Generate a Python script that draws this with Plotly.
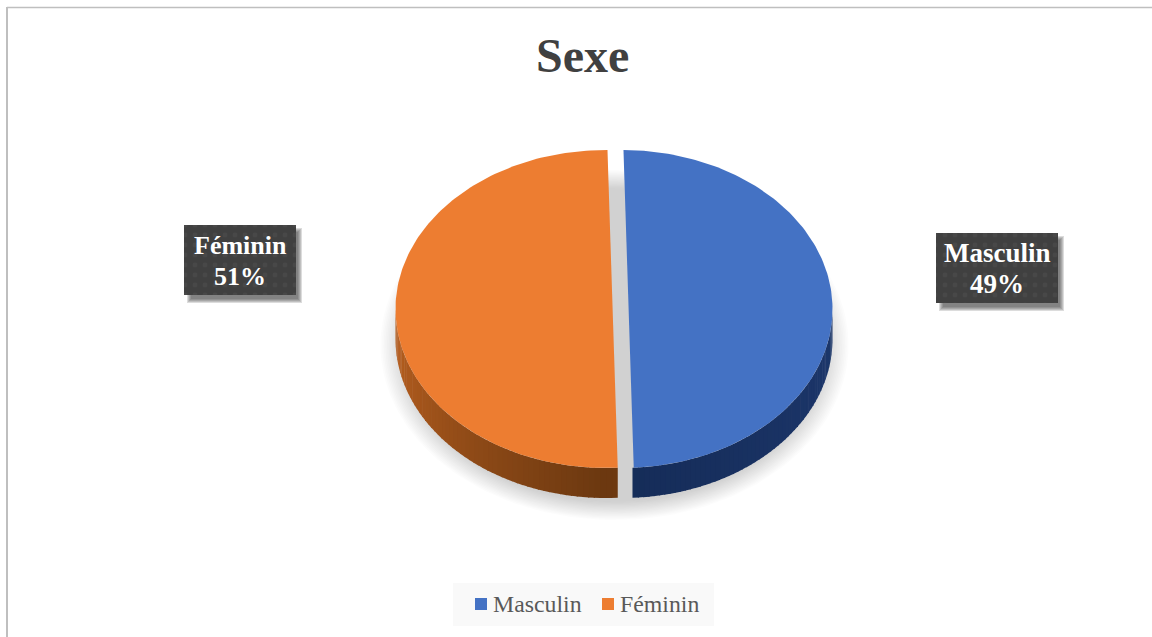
import numpy as np
import plotly.graph_objects as go

# ---- data ----
categories = ["Masculin", "Féminin"]
values = [49, 51]
colors = ["#4472C4", "#ED7D31"]
title_text = "Sexe"

# ---- geometry / style ----
W, H = 1152, 637
CX = [622.0, 606.0]     # centre x of each exploded slice
CY = 309.0
RX, RY = 210.5, 159.0
DEPTH = 30.0
START = np.radians(0.4)
WALL_LIGHT = ["#1C366A", "#B25C1E"]
WALL_DARK = ["#152C58", "#6B3810"]
FONT = "Liberation Serif"

fig = go.Figure()


def hex_rgb(h):
    return np.array([int(h[i:i + 2], 16) for i in (1, 3, 5)], float)


def mix(a, b, t):
    c = hex_rgb(a) * (1 - t) + hex_rgb(b) * t
    return "rgb(%d,%d,%d)" % tuple(c.round())


def poly(x, y, color, **kw):
    fig.add_trace(go.Scatter(x=x, y=y, mode="lines", fill="toself", fillcolor=color,
                             line=dict(width=0), hoverinfo="skip", showlegend=False, **kw))


# soft shadow under the pie
t_full = np.linspace(0, 2 * np.pi, 180)
for s in np.linspace(1.0, 0.895, 16):
    poly(614.5 + 234 * s * np.sin(t_full), 345 - 175 * s * np.cos(t_full), "rgba(110,110,110,0.022)")

# slices
fractions = np.array(values, float) / sum(values)
edges = START + np.concatenate([[0], np.cumsum(fractions)]) * 2 * np.pi
for i in range(len(values)):
    a0, a1 = edges[i], edges[i + 1]
    lo, hi = max(a0, np.pi / 2), min(a1, 3 * np.pi / 2)
    ticks = np.linspace(lo, hi, 61)
    for k in range(60):
        t = np.linspace(ticks[k], ticks[k + 1] + 0.006, 3)
        xs = CX[i] + RX * np.sin(t)
        ys = CY - RY * np.cos(t)
        f = abs(np.pi - (ticks[k] + ticks[k + 1]) / 2) / (np.pi / 2)
        col = mix(WALL_DARK[i], WALL_LIGHT[i], min(1, f * 1.15))
        poly(np.r_[xs, xs[::-1]], np.r_[ys, ys[::-1] + DEPTH], col)
    # top face: the two radial edges read as one straight cut
    t = np.linspace(a0, a1, 160)
    ax, ay = CX[i] + RX * np.sin(t), CY - RY * np.cos(t)
    poly(np.r_[ax, ax[0]], np.r_[ay, ay[0]], colors[i], name=categories[i])

# data-label boxes
boxes = [(936, 233, 1058, 303), (184, 225, 296, 295)]
for i, (x0, y0, x1, y1) in enumerate(boxes):
    for d in range(5, 0, -1):
        poly([x0 + 8 - d, x1 + 1 + d, x1 + 1 + d, x0 + 8 - d, x0 + 8 - d],
             [y0 + 8 - d, y0 + 8 - d, y1 + 3 + d, y1 + 3 + d, y0 + 8 - d],
             "rgba(60,60,60,0.18)")
    fig.add_trace(go.Scatter(
        x=[x0, x1, x1, x0, x0], y=[y0, y0, y1, y1, y0], mode="lines", fill="toself",
        fillcolor="#404040", line=dict(width=0), hoverinfo="skip", showlegend=False,
        fillpattern=dict(shape=".", bgcolor="#404040", fgcolor="#505050", size=10, solidity=0.18),
    ))
    mid = (x0 + x1) / 2
    fig.add_annotation(x=mid, y=y0 + 20, text=f"<b>{categories[i]}</b>", showarrow=False,
                       font=dict(family=FONT, size=27 if i == 0 else 26, color="white"))
    fig.add_annotation(x=mid, y=y0 + 51, text=f"<b>{values[i]}%</b>", showarrow=False,
                       font=dict(family=FONT, size=27 if i == 0 else 26, color="white"))

# legend band
fig.add_shape(type="rect", x0=453, x1=714, y0=583, y1=626, fillcolor="#F9F9F9", line_width=0, layer="below")
legend_x = [481, 608]
fig.add_trace(go.Scatter(
    x=legend_x, y=[604, 604], mode="markers",
    marker=dict(symbol="square", size=12, color=colors, line_width=0),
    hoverinfo="skip", showlegend=False,
))
for lx, cat in zip(legend_x, categories):
    fig.add_annotation(x=lx + 10, y=604, text=cat, showarrow=False, xanchor="left",
                       font=dict(family=FONT, size=23.8, color="#595959"))

# chart-area border (top and left only are in frame)
fig.add_shape(type="line", x0=7, x1=W, y0=7.5, y1=7.5, line=dict(color="#BFBFBF", width=1.5), layer="below")
fig.add_shape(type="line", x0=7, x1=7, y0=7, y1=H, line=dict(color="#BFBFBF", width=2), layer="below")

fig.add_annotation(x=582.5, y=55, text=f"<b>{title_text}</b>", showarrow=False,
                   font=dict(family=FONT, size=48, color="#404040"))

fig.update_layout(
    width=W, height=H, margin=dict(l=0, r=0, t=0, b=0), showlegend=False,
    paper_bgcolor="white", plot_bgcolor="white",
    xaxis=dict(range=[0, W], visible=False, fixedrange=True),
    yaxis=dict(range=[H, 0], visible=False, fixedrange=True),
)
fig.write_html("out.html", config={"displayModeBar": False},
               post_script="document.body.style.margin='0';document.body.style.overflow='hidden';")
